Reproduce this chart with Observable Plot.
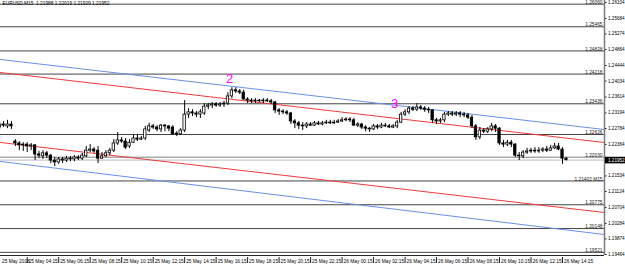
<!DOCTYPE html>
<html><head><meta charset="utf-8">
<script src="https://cdn.jsdelivr.net/npm/d3@7"></script>
<script src="https://cdn.jsdelivr.net/npm/@observablehq/plot@0.6"></script>
<style>html,body{margin:0;padding:0;background:#fff;} svg{display:block}</style>
</head><body><div id="chart"></div>
<script>
const symbolHeader = "EURUSD,M15  1.21988 1.22019 1.21929 1.21952";
const firstBarTime = "2018-05-25T02:30Z";
const opens = [
1.2281,1.2289,1.2284,1.2289,1.2244,1.2239,1.2234,1.2236,1.2231,1.2234,
1.2210,1.2205,1.2213,1.2207,1.2194,1.2189,1.2197,1.2194,1.2199,1.2197,
1.2202,1.2199,1.2205,1.2220,1.2223,1.2220,1.2199,1.2205,1.2213,1.2220,
1.2239,1.2247,1.2244,1.2231,1.2241,1.2252,1.2249,1.2252,1.2273,1.2284,
1.2281,1.2276,1.2286,1.2284,1.2281,1.2265,1.2263,1.2273,1.2315,1.2321,
1.2318,1.2315,1.2318,1.2336,1.2339,1.2342,1.2339,1.2342,1.2344,1.2363,
1.2379,1.2376,1.2373,1.2355,1.2352,1.2350,1.2352,1.2350,1.2352,1.2350,
1.2347,1.2326,1.2323,1.2321,1.2318,1.2297,1.2292,1.2286,1.2284,1.2289,
1.2286,1.2292,1.2289,1.2292,1.2294,1.2292,1.2294,1.2297,1.2300,1.2302,
1.2300,1.2286,1.2289,1.2281,1.2278,1.2276,1.2284,1.2281,1.2286,1.2284,
1.2281,1.2284,1.2294,1.2315,1.2321,1.2331,1.2328,1.2334,1.2331,1.2328,
1.2326,1.2300,1.2297,1.2300,1.2315,1.2318,1.2315,1.2318,1.2315,1.2313,
1.2307,1.2284,1.2255,1.2273,1.2270,1.2276,1.2284,1.2278,1.2239,1.2236,
1.2241,1.2236,1.2207,1.2205,1.2215,1.2218,1.2220,1.2218,1.2220,1.2223,
1.2220,1.2226,1.2231,1.2223,1.21988];
const highs = [
1.2294,1.2297,1.2300,1.2297,1.2249,1.2244,1.2241,1.2241,1.2239,1.2236,
1.2218,1.2220,1.2218,1.2210,1.2202,1.2202,1.2202,1.2205,1.2205,1.2207,
1.2207,1.2213,1.2231,1.2236,1.2228,1.2231,1.2215,1.2220,1.2226,1.2249,
1.2268,1.2255,1.2252,1.2249,1.2260,1.2263,1.2257,1.2284,1.2292,1.2289,
1.2286,1.2289,1.2289,1.2286,1.2286,1.2270,1.2278,1.2352,1.2331,1.2328,
1.2323,1.2328,1.2344,1.2344,1.2347,1.2347,1.2347,1.2350,1.2373,1.2386,
1.2386,1.2381,1.2379,1.2360,1.2357,1.2357,1.2355,1.2357,1.2357,1.2355,
1.2350,1.2331,1.2328,1.2326,1.2321,1.2302,1.2297,1.2294,1.2294,1.2294,
1.2297,1.2297,1.2297,1.2300,1.2300,1.2300,1.2302,1.2307,1.2307,1.2307,
1.2305,1.2294,1.2292,1.2286,1.2281,1.2289,1.2289,1.2292,1.2292,1.2289,
1.2289,1.2300,1.2321,1.2328,1.2336,1.2336,1.2344,1.2339,1.2336,1.2334,
1.2328,1.2305,1.2305,1.2321,1.2323,1.2323,1.2323,1.2323,1.2321,1.2318,
1.2313,1.2289,1.2281,1.2278,1.2281,1.2292,1.2289,1.2281,1.2247,1.2247,
1.2247,1.2239,1.2215,1.2220,1.2226,1.2226,1.2228,1.2228,1.2228,1.2231,
1.2234,1.2239,1.2239,1.2228,1.22019];
const lows = [
1.2276,1.2281,1.2278,1.2276,1.2231,1.2220,1.2218,1.2215,1.2220,1.2194,
1.2199,1.2197,1.2199,1.2186,1.2178,1.2184,1.2186,1.2189,1.2191,1.2191,
1.2194,1.2194,1.2202,1.2215,1.2213,1.2186,1.2197,1.2202,1.2207,1.2215,
1.2234,1.2239,1.2223,1.2226,1.2239,1.2244,1.2247,1.2247,1.2268,1.2276,
1.2270,1.2268,1.2270,1.2270,1.2260,1.2257,1.2260,1.2268,1.2305,1.2310,
1.2307,1.2305,1.2313,1.2328,1.2331,1.2334,1.2334,1.2334,1.2339,1.2357,
1.2371,1.2368,1.2352,1.2344,1.2344,1.2344,1.2347,1.2344,1.2347,1.2342,
1.2318,1.2313,1.2315,1.2313,1.2289,1.2278,1.2276,1.2273,1.2278,1.2284,
1.2284,1.2286,1.2286,1.2289,1.2289,1.2289,1.2292,1.2294,1.2297,1.2294,
1.2284,1.2281,1.2276,1.2270,1.2268,1.2273,1.2276,1.2278,1.2281,1.2278,
1.2278,1.2278,1.2292,1.2310,1.2315,1.2323,1.2323,1.2326,1.2321,1.2318,
1.2292,1.2289,1.2292,1.2294,1.2310,1.2310,1.2310,1.2307,1.2307,1.2302,
1.2278,1.2247,1.2249,1.2265,1.2265,1.2270,1.2268,1.2234,1.2228,1.2231,
1.2228,1.2202,1.2194,1.2199,1.2210,1.2213,1.2213,1.2213,1.2215,1.2215,
1.2218,1.2223,1.2220,1.2184,1.21929];
const closes = [
1.2289,1.2286,1.2289,1.2284,1.2239,1.2234,1.2236,1.2231,1.2234,1.2210,
1.2207,1.2213,1.2207,1.2194,1.2189,1.2197,1.2194,1.2199,1.2197,1.2202,
1.2199,1.2207,1.2220,1.2223,1.2218,1.2199,1.2205,1.2213,1.2220,1.2239,
1.2247,1.2244,1.2228,1.2241,1.2252,1.2249,1.2252,1.2276,1.2284,1.2281,
1.2276,1.2286,1.2284,1.2278,1.2263,1.2263,1.2273,1.2315,1.2321,1.2318,
1.2315,1.2321,1.2336,1.2339,1.2342,1.2339,1.2342,1.2344,1.2363,1.2379,
1.2376,1.2373,1.2355,1.2352,1.2350,1.2352,1.2350,1.2352,1.2350,1.2347,
1.2326,1.2323,1.2321,1.2318,1.2297,1.2292,1.2286,1.2284,1.2289,1.2286,
1.2292,1.2289,1.2292,1.2294,1.2292,1.2294,1.2297,1.2300,1.2302,1.2300,
1.2286,1.2289,1.2281,1.2278,1.2276,1.2284,1.2281,1.2286,1.2284,1.2281,
1.2284,1.2294,1.2315,1.2321,1.2331,1.2328,1.2334,1.2331,1.2328,1.2326,
1.2300,1.2297,1.2300,1.2315,1.2318,1.2315,1.2318,1.2315,1.2313,1.2307,
1.2284,1.2255,1.2273,1.2270,1.2276,1.2284,1.2278,1.2239,1.2236,1.2241,
1.2236,1.2207,1.2205,1.2215,1.2218,1.2220,1.2218,1.2220,1.2223,1.2220,
1.2226,1.2231,1.2223,1.2199,1.21952];

const timeTicks = ["2018-05-25T02:15Z","2018-05-25T04:15Z","2018-05-25T06:15Z","2018-05-25T08:15Z","2018-05-25T10:15Z","2018-05-25T12:15Z","2018-05-25T14:15Z","2018-05-25T16:15Z","2018-05-25T18:15Z","2018-05-25T20:15Z","2018-05-25T22:15Z","2018-05-26T00:15Z","2018-05-26T02:15Z","2018-05-26T04:15Z","2018-05-26T06:15Z","2018-05-26T08:15Z","2018-05-26T10:15Z","2018-05-26T12:15Z","2018-05-26T14:15Z"];
const timeTickLabels = ["25 May 2018","25 May 04:15","25 May 06:15","25 May 08:15","25 May 10:15","25 May 12:15","25 May 14:15","25 May 16:15","25 May 18:15","25 May 20:15","25 May 22:15","26 May 00:15","26 May 02:15","26 May 04:15","26 May 06:15","26 May 08:15","26 May 10:15","26 May 12:15","26 May 14:15"];
const priceTicks = [1.26104,1.25684,1.25274,1.24864,1.24444,1.24034,1.23614,1.23194,1.22784,1.22364,1.21534,1.21124,1.20704,1.20284,1.19874,1.19464];
const bidPrice = 1.21952;
const levelPrices = [1.26060,1.25465,1.24828,1.24218,1.23436,1.22626,1.22030,1.21402,1.20775,1.20148,1.19521];
const levelLabels = ["1.26060","1.25465","1.24828","1.24218","1.23436","1.22626","1.22030","1.21402 M15","1.20775","1.20148","1.19521"];
const levelColors = ["#444","#444","#444","#444","#444","#444","#a9a9a9","#444","#444","#444","#444"];
const trendStartTimes = ["2018-05-25T02:30Z","2018-05-25T02:30Z","2018-05-25T02:30Z","2018-05-25T02:30Z"];
const trendEndTimes = ["2018-05-26T17:00Z","2018-05-26T17:00Z","2018-05-26T17:00Z","2018-05-26T17:00Z"];
const trendStartPrices = [1.24605,1.21917,1.24262,1.22418];
const trendEndPrices = [1.22753,1.19986,1.22410,1.20566];
const trendColors = ["#6b8ee6","#6b8ee6","#f03a3a","#f03a3a"];
const waveLabels = ["2","3"];
const waveTimes = ["2018-05-25T17:06Z","2018-05-26T03:35Z"];
const wavePrices = [1.24102,1.23443];

const parse = d3.utcParse("%Y-%m-%dT%H:%MZ");
const t0 = parse(firstBarTime);
const bars = opens.map((o,i)=>({t: d3.utcMinute.offset(t0, 15*i), open:o, high:highs[i], low:lows[i], close:closes[i]}));
const xDomain = [new Date(Date.UTC(2018,4,25,2,33,15)), new Date(Date.UTC(2018,4,26,16,55))];
const yDomain = [1.19438, 1.26157];
const ticks = timeTicks.map((s,i)=>({t: parse(s), label: timeTickLabels[i]}));
const trends = trendStartTimes.map((s,i)=>({x1: parse(s), x2: parse(trendEndTimes[i]), y1: trendStartPrices[i], y2: trendEndPrices[i], c: trendColors[i]}));
const levels = levelPrices.map((p,i)=>({p, label: levelLabels[i], c: levelColors[i]}));
const waves = waveLabels.map((l,i)=>({l, t: parse(waveTimes[i]), p: wavePrices[i]}));
// the first time label lies left of the window; keep it inside the picture
const labelX = d => (d.t < xDomain[0] ? xDomain[0] : d.t);

const svg = Plot.plot({
  width: 625, height: 265,
  marginTop: 0, marginRight: 21, marginBottom: 10, marginLeft: 0,
  style: {fontFamily: "'Liberation Sans', Arial, sans-serif", fontSize: "5px", color: "black", background: "white", overflow: "visible"},
  x: {type: "utc", domain: xDomain, axis: null},
  y: {domain: yDomain, axis: null},
  marks: [
    Plot.ruleY(levels, {y: "p", stroke: "c", strokeWidth: d => d.c === "#a9a9a9" ? 1.5 : 1}),
    Plot.ruleY([bidPrice], {stroke: "#c8c8c8", strokeWidth: 1.2}),
    Plot.link(trends, {x1: "x1", y1: "y1", x2: "x2", y2: "y2", stroke: "c", strokeWidth: 1, clip: true}),
    Plot.ruleX(bars, {x: "t", y1: "low", y2: "high", stroke: "black", strokeWidth: 1, clip: true}),
    Plot.rect(bars, {x1: d => d3.utcSecond.offset(d.t, -270), x2: d => d3.utcSecond.offset(d.t, 270), y1: "open", y2: "close",
      fill: d => d.close > d.open ? "white" : "black", stroke: "black", strokeWidth: 0.8, clip: true}),
    Plot.text(levels, {y: "p", text: "label", frameAnchor: "right", textAnchor: "end", lineAnchor: "bottom", dx: -2, dy: -0.3, fill: "#222", fontSize: 4.8}),
    Plot.text(waves, {x: "t", y: "p", text: "l", fill: "#ff00ff", fontSize: 13, lineAnchor: "middle", textAnchor: "middle"}),
    Plot.text([symbolHeader], {frameAnchor: "top-left", dx: 2, dy: 1.5, lineAnchor: "top", textAnchor: "start", fontSize: 4.8}),
    Plot.ruleX([xDomain[1]], {stroke: "#7a7a7a", strokeWidth: 1.5}),
    Plot.ruleY([yDomain[0]], {stroke: "#222", strokeWidth: 1}),
    Plot.ruleY(priceTicks, {x1: xDomain[1], x2: xDomain[1], insetLeft: 1, insetRight: -2.5, stroke: "#222"}),
    Plot.text(priceTicks, {y: d => d, text: d => d.toFixed(5), frameAnchor: "right", textAnchor: "start", lineAnchor: "middle", dx: 3.5, fontSize: 4.6}),
    Plot.text([bidPrice], {y: d => d, text: d => d.toFixed(5), frameAnchor: "right", textAnchor: "start", lineAnchor: "middle", dx: 3.5, fontSize: 4.6, fill: "white"}),
    Plot.ruleX(ticks, {x: "t", y1: yDomain[0], y2: yDomain[0], insetTop: 2, insetBottom: -8, stroke: "#222"}),
    Plot.text(ticks, {x: labelX, text: "label", frameAnchor: "bottom", textAnchor: "start", lineAnchor: "middle", dx: 1.5, dy: 6, fontSize: 4.8})
  ]
});
document.getElementById("chart").append(svg);

// black background behind the bid price label
const bidTxt = [...svg.querySelectorAll("text")].find(t => t.textContent === bidPrice.toFixed(5));
if (bidTxt) {
  const sb = svg.getBoundingClientRect();
  const bb = bidTxt.getBoundingClientRect();
  const r = document.createElementNS("http://www.w3.org/2000/svg", "rect");
  r.setAttribute("x", 605);
  r.setAttribute("width", 20);
  r.setAttribute("y", bb.top - sb.top - 0.8);
  r.setAttribute("height", bb.height + 1.6);
  r.setAttribute("fill", "black");
  const g = bidTxt.closest("g");
  g.parentNode.insertBefore(r, g);
}
</script>
</body></html>
